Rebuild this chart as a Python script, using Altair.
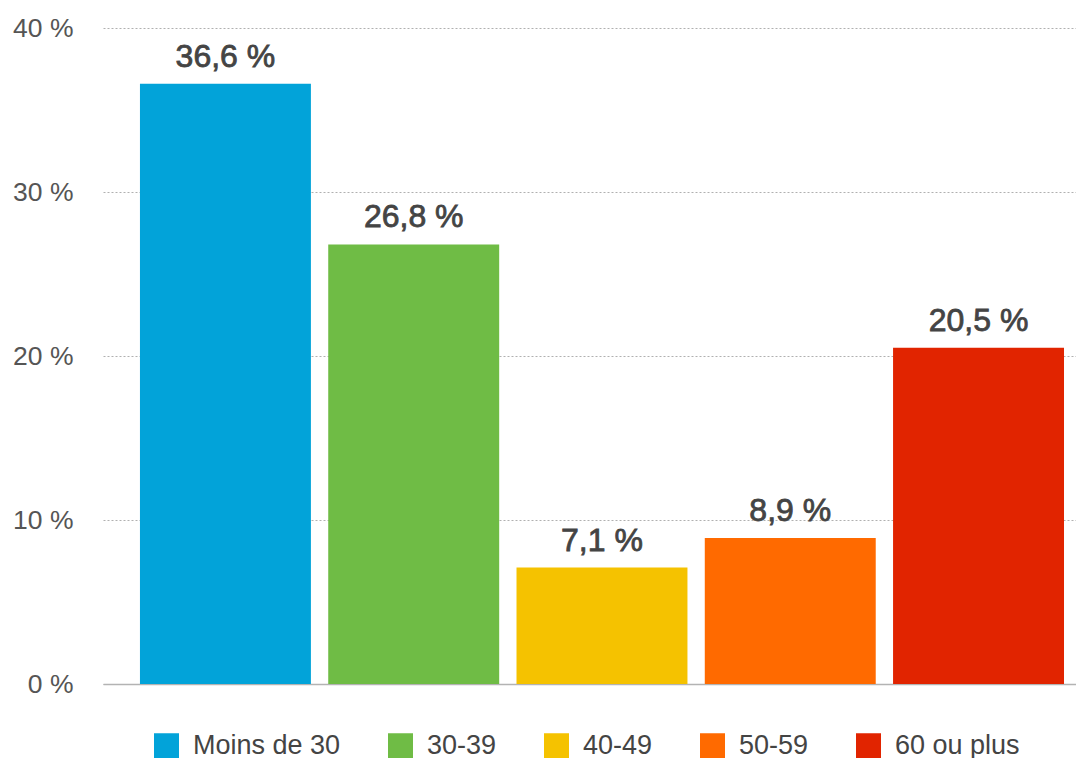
import altair as alt
import pandas as pd

categories = ["Moins de 30", "30-39", "40-49", "50-59", "60 ou plus"]
values = [36.6, 26.8, 7.1, 8.9, 20.5]
colors = ["#02A3D9", "#6FBC45", "#F5C200", "#FF6A00", "#E12400"]
labels = [f"{v:.1f}".replace(".", ",") + " %" for v in values]

df = pd.DataFrame({"cat": categories, "val": values, "label": labels})

FONT = "Liberation Sans"

x = alt.X(
    "cat:N",
    sort=categories,
    scale=alt.Scale(paddingInner=0.092, paddingOuter=0.13, align=0.755),
    axis=alt.Axis(labels=False, ticks=False, title=None, domainColor="#b3b3b3",
                  domainWidth=1.5, grid=False),
)
y = alt.Y(
    "val:Q",
    scale=alt.Scale(domain=[0, 40], nice=False),
    axis=alt.Axis(values=[0, 10, 20, 30, 40], labelExpr="datum.value + ' %'",
                  title=None, domain=False, ticks=False, labelPadding=30,
                  labelFontSize=26.5, labelColor="#555555", labelFont=FONT,
                  grid=True, gridColor="#b0b0b0", gridDash=[2, 2], gridWidth=1),
)

bars = alt.Chart(df).mark_bar().encode(
    x=x,
    y=y,
    color=alt.Color(
        "cat:N",
        sort=categories,
        scale=alt.Scale(domain=categories, range=colors),
        legend=alt.Legend(
            title=None, orient="none", direction="horizontal", columns=5,
            legendX=50, legendY=704, padding=0,
            symbolType="square", symbolSize=625, symbolStrokeWidth=0,
            labelFontSize=27, labelFont=FONT, labelColor="#444444",
            labelOffset=13, columnPadding=46, labelLimit=300,
        ),
    ),
)

text = alt.Chart(df).mark_text(
    baseline="bottom", dy=-10, fontSize=32, font=FONT, fontWeight="normal",
    color="#444444", stroke="#444444", strokeWidth=0.8
).encode(x=alt.X("cat:N", sort=categories), y="val:Q", text="label:N")

chart = alt.layer(bars, text).properties(
    width=973, height=656,
    autosize=alt.AutoSizeParams(type="none"),
    padding={"left": 95, "top": 20, "right": 0, "bottom": 82},
).configure_view(stroke=None)

chart.save("out.html", embed_options={"renderer": "svg", "actions": False})
